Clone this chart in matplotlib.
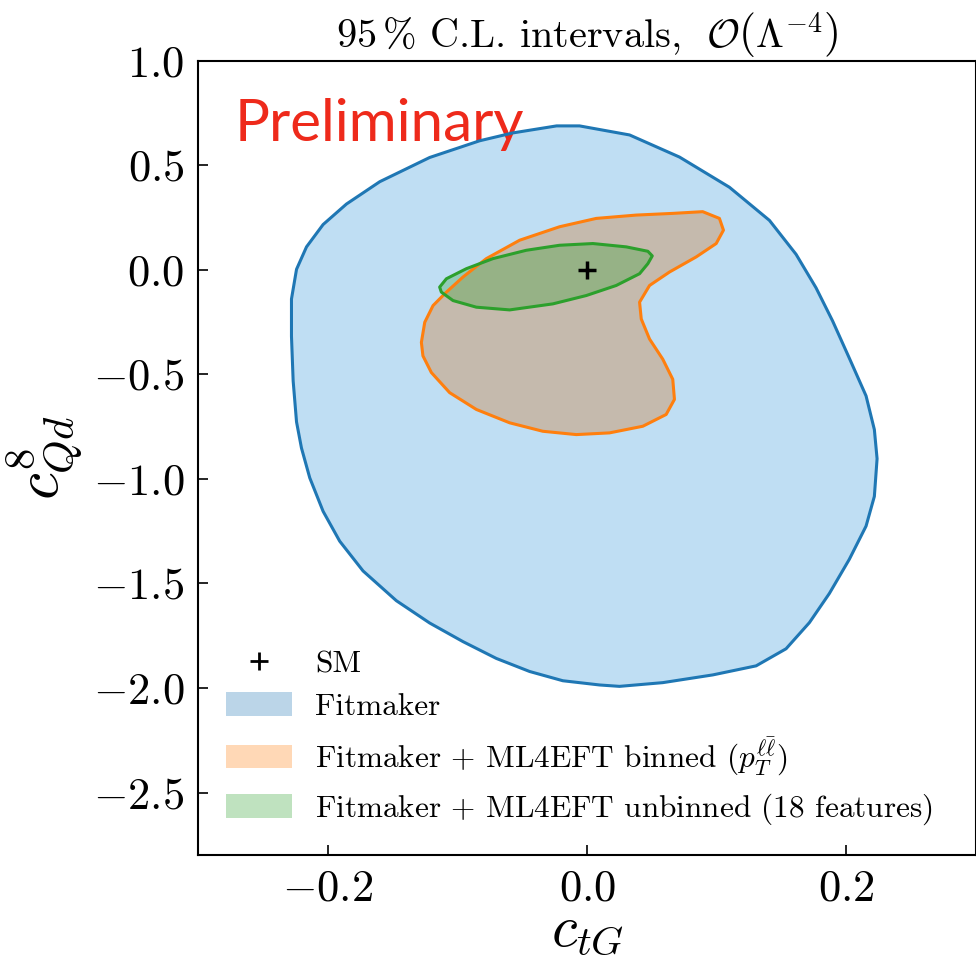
import matplotlib
matplotlib.use("Agg")
import matplotlib.pyplot as plt
from matplotlib.patches import Patch
from matplotlib.lines import Line2D

plt.rcParams["mathtext.fontset"] = "cm"
plt.rcParams["font.family"] = "serif"
plt.rcParams["font.serif"] = ["cmr10"]
plt.rcParams["axes.formatter.use_mathtext"] = True
plt.rcParams["axes.unicode_minus"] = True

# 95% C.L. contour boundaries (c_tG, c8_Qd)
fitmaker_x = [-0.2280, -0.2241, -0.2164, -0.2036, -0.1856, -0.1599, -0.1214, -0.0829, -0.0574, -0.0235,
              -0.0058, 0.0328, 0.0713, 0.1098, 0.1407, 0.1612, 0.1766, 0.1894, 0.2023, 0.2152,
              0.2216, 0.2237, 0.2216, 0.2152, 0.2023, 0.1869, 0.1715, 0.1535, 0.1304, 0.0970,
              0.0584, 0.0250, 0.0096, -0.0187, -0.0443, -0.0700, -0.0957, -0.1214, -0.1471, -0.1728,
              -0.1908, -0.2036, -0.2139, -0.2203, -0.2241, -0.2267, -0.2280]
fitmaker_y = [-0.1404, 0.0019, 0.1091, 0.2159, 0.3139, 0.4207, 0.5365, 0.6163, 0.6538, 0.6875,
              0.6875, 0.6442, 0.5385, 0.3942, 0.2356, 0.0736, -0.0865, -0.2452, -0.4231, -0.6034,
              -0.7644, -0.9038, -1.0841, -1.2260, -1.3846, -1.5481, -1.6875, -1.8125, -1.8942, -1.9375,
              -1.9745, -1.9923, -1.9856, -1.9654, -1.9212, -1.8587, -1.7784, -1.6894, -1.5827, -1.4404,
              -1.2981, -1.1553, -0.9952, -0.8524, -0.7279, -0.5322, -0.3183]

binned_x = [-0.1278, -0.1252, -0.1188, -0.1085, -0.0957, -0.0777, -0.0520, -0.0212, 0.0071, 0.0379,
            0.0661, 0.0892, 0.1021, 0.1052, 0.0996, 0.0842, 0.0636, 0.0482, 0.0405, 0.0418,
            0.0482, 0.0584, 0.0661, 0.0674, 0.0610, 0.0430, 0.0173, -0.0083, -0.0341, -0.0597,
            -0.0854, -0.1060, -0.1201, -0.1266]
binned_y = [-0.3476, -0.2514, -0.1716, -0.1072, -0.0351, 0.0529, 0.1409, 0.2053, 0.2452, 0.2611,
            0.2692, 0.2774, 0.2452, 0.1889, 0.1250, 0.0611, -0.0111, -0.0755, -0.1553, -0.2356,
            -0.3317, -0.4279, -0.5240, -0.6202, -0.6923, -0.7486, -0.7803, -0.7885, -0.7726, -0.7322,
            -0.6683, -0.5880, -0.4918, -0.4120]

unbinned_x = [-0.1137, -0.1085, -0.0931, -0.0726, -0.0469, -0.0212, 0.0045, 0.0302, 0.0469, 0.0503,
              0.0469, 0.0405, 0.0225, -0.0006, -0.0264, -0.0597, -0.0854, -0.1034, -0.1124]
unbinned_y = [-0.0832, -0.0433, 0.0048, 0.0529, 0.0928, 0.1168, 0.1250, 0.1091, 0.0880, 0.0659,
              0.0288, -0.0192, -0.0755, -0.1236, -0.1635, -0.1923, -0.1793, -0.1476, -0.1072]

sm_point = (0.0, 0.0)

labels = ["SM", "Fitmaker",
          r"Fitmaker $+$ ML4EFT binned $(p_T^{\ell\bar{\ell}})$",
          r"Fitmaker $+$ ML4EFT unbinned (18 features)"]

fig = plt.figure(figsize=(9.76, 9.61), dpi=100)
ax = fig.add_axes([0.203, 0.110, 0.797, 0.827])

ax.fill(fitmaker_x, fitmaker_y, facecolor="#bfdef3", edgecolor="none", zorder=1)
ax.fill(binned_x, binned_y, facecolor="#c5baad", edgecolor="none", zorder=2)
ax.fill(unbinned_x, unbinned_y, facecolor="tab:green", alpha=0.3, edgecolor="none", zorder=3)
ax.fill(fitmaker_x, fitmaker_y, facecolor="none", edgecolor="tab:blue", lw=2.2,
        joinstyle="round", zorder=4)
ax.fill(binned_x, binned_y, facecolor="none", edgecolor="tab:orange", lw=2.2,
        joinstyle="round", zorder=5)
ax.fill(unbinned_x, unbinned_y, facecolor="none", edgecolor="tab:green", lw=2.2,
        joinstyle="round", zorder=6)
ax.plot(*sm_point, marker="+", color="black", ms=13, mew=2.5, ls="none", zorder=7)

ax.set_xlim(-0.3, 0.3)
ax.set_ylim(-2.8, 1.0)
ax.set_xticks([-0.2, 0.0, 0.2])
ax.set_yticks([1.0, 0.5, 0.0, -0.5, -1.0, -1.5, -2.0, -2.5])
ax.tick_params(direction="in", labelsize=32, length=7, width=1.2, pad=10)
for s in ax.spines.values():
    s.set_linewidth(1.5)

ax.set_xlabel(r"$c_{tG}$", fontsize=42, labelpad=-2)
ax.set_ylabel(r"$c_{Qd}^{8}$", fontsize=44, labelpad=6)
ax.set_title(r"$95\,\%$ C.L. intervals, $\ \mathcal{O}\left(\Lambda^{-4}_{\,}\right)$",
             fontsize=29, pad=6)

ax.text(0.047, 0.899, "Preliminary", transform=ax.transAxes, color="#ee2a1b",
        fontsize=42, family="Lato", ha="left", va="baseline")

handles = [Line2D([], [], marker="+", color="black", ls="none", ms=13, mew=2),
           Patch(facecolor="tab:blue", alpha=0.3, edgecolor="none"),
           Patch(facecolor="tab:orange", alpha=0.3, edgecolor="none"),
           Patch(facecolor="tab:green", alpha=0.3, edgecolor="none")]
ax.legend(handles, labels, loc="lower left", frameon=False, fontsize=22.5,
          handlelength=2.1, handleheight=0.8, handletextpad=0.75, labelspacing=0.45,
          borderaxespad=0.5)

fig.savefig("out.png", dpi=100)
